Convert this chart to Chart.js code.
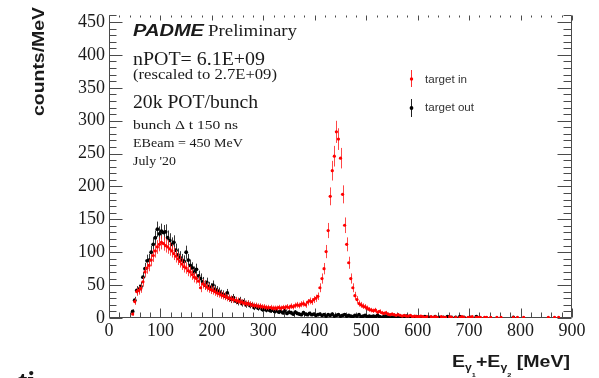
<!DOCTYPE html>
<html><head><meta charset="utf-8">
<script src="https://cdn.jsdelivr.net/npm/chart.js@4.4.1/dist/chart.umd.min.js"></script>
<style>html,body{margin:0;padding:0;background:#fff;overflow:hidden}#wrap{width:599px;height:378px;position:relative}</style>
</head><body><div id="wrap"><canvas id="c" width="599" height="378"></canvas></div>
<script>
// Histogram binning (MeV): bin i covers [binLow + i*binWidth, binLow + (i+1)*binWidth)
const binLow = 40, binWidth = 4;

// counts/MeV, "target in" (red)
const targetIn = [
 null,6,25,40,42,45,55,70,76,80,88,95,102,108,112,115,113,110,108,105,
 102,98,94,90,86,82,78,76,72,70,66,62,60,56,46,52,50,47,45,43,
 42,40,38,37,35,34,33,31,30,29,28,27,26,25,24,23,22,22,21,20,
 19,19,18,18,17,17,16,16,16,15,15,15,16,15,16,16,17,16,18,17,
 19,20,19,21,22,20,24,26,25,28,30,33,46,60,75,101,133,185,224,246,
 283,272,243,188,141,112,84,60,46,34,28,22,20,18,17,15,13,12,11,12,
 9,10,8,7,8,6,5,6,5,4,5,4,3,4,3,3,4,2,3,2,
 2,3,2,1,2,null,2,1,2,1,null,2,1,1,null,2,1,null,1,null,
 1,2,1,null,1,1,2,null,1,1,1,null,1,1,null,1,null,null,1,null,
 1,null,null,null,null,null,1,null,1,null,null,1,null,null,null,null,
 null,null,null,null,null,null,null,1,null,null,1,null,1,null,null
];
// counts/MeV, "target out" (black)
const targetOut = [
 null,10,27,42,44,48,62,75,87,88,100,112,122,135,128,132,130,131,122,118,
 112,115,103,96,92,88,86,100,88,80,76,70,74,64,60,55,50,54,48,46,
 50,44,42,40,37,36,33,38,30,28,31,26,24,27,22,25,20,22,19,20,
 16,18,15,17,13,14,12,13,11,12,10,11,9,10,8,11,7,9,8,6,
 9,7,6,5,8,6,5,7,5,6,4,5,6,4,5,3,5,4,6,3,
 4,5,3,4,5,3,4,3,2,4,3,5,2,3,4,2,3,2,3,2,
 4,2,1,2,3,1,2,1,2,3,1,2,1,1,3,1,2,null,1,2,
 1,null,1,2,null,1,1,null,2,null,1,null,1,null,2,null,1,null,1,null,
 2,null,1,null,null,1,null,null,2,null,null,null,null,null,null,null,null,null,null,null,
 null,null,null,null,null,null,1,null,null,null,null,null,null,null,null,null,
 null,null,null,null,null,null,null,null,null,null,null,null,null,null,null
];

const xTickLabels = [0,100,200,300,400,500,600,700,800,900];
const yTickLabels = [0,50,100,150,200,250,300,350,400,450];

function toPoints(arr){
  const pts = [];
  arr.forEach((v,i)=>{ if(v!==null) pts.push({x: binLow + binWidth*(i+0.5), y: v}); });
  return pts;
}

const AXIS = '#4a4a4a', TXT = '#1a1a1a';

function stretchText(ctx, str, x, y, font, width, align){
  ctx.save();
  ctx.font = font;
  const w = ctx.measureText(str).width;
  const sx = width / w;
  ctx.translate(x, y);
  ctx.scale(sx, 1);
  ctx.textAlign = 'left';
  ctx.fillText(str, align==='right' ? -w : 0, 0);
  ctx.restore();
}

const errorBars = {
  id:'errorBars',
  beforeDatasetDraw(chart, args){
    const ds = chart.data.datasets[args.index];
    const xs = chart.scales.x, ys = chart.scales.y, ctx = chart.ctx, a = chart.chartArea;
    ctx.save();
    ctx.beginPath(); ctx.rect(a.left, a.top, a.right-a.left, a.bottom-a.top); ctx.clip();
    ctx.strokeStyle = ds.barColor; ctx.lineWidth = 1;
    ds.data.forEach(p=>{
      const e = Math.sqrt(p.y);
      const px = Math.round(xs.getPixelForValue(p.x)) + 0.5;
      const py = ys.getPixelForValue(p.y);
      ctx.beginPath();
      ctx.moveTo(px, ys.getPixelForValue(p.y + e));
      ctx.lineTo(px, ys.getPixelForValue(Math.max(0, p.y - e)));
      ctx.moveTo(xs.getPixelForValue(p.x - binWidth/2), py);
      ctx.lineTo(xs.getPixelForValue(p.x + binWidth/2), py);
      ctx.stroke();
    });
    ctx.restore();
  }
};

const frame = {
  id:'frame',
  beforeDatasetsDraw(chart){
    const ctx = chart.ctx, a = chart.chartArea, xs = chart.scales.x, ys = chart.scales.y;
    ctx.save();
    ctx.strokeStyle = AXIS; ctx.lineWidth = 1;
    const L = Math.round(a.left)+0.5, R = Math.round(a.right)-0.5, B = Math.round(a.bottom)-0.5, T = Math.round(a.top)+0.5;
    ctx.beginPath();
    ctx.moveTo(L, T); ctx.lineTo(L, B); ctx.lineTo(R, B); ctx.lineTo(R, T);
    // y ticks (every 10, major every 50)
    for(let v=0; v<=ys.max; v+=10){
      const y = Math.round(ys.getPixelForValue(v))+0.5;
      const major = v%50===0;
      ctx.moveTo(L, y); ctx.lineTo(L + (major?13:7), y);
      ctx.moveTo(R, y); ctx.lineTo(R - (major?14:8), y);
    }
    // x ticks (every 20, major every 100)
    for(let v=0; v<=900; v+=20){
      const x = Math.round(xs.getPixelForValue(v))+0.5;
      const major = v%100===0;
      ctx.moveTo(x, B); ctx.lineTo(x, B - (major?9:5));
      ctx.moveTo(x, T); ctx.lineTo(x, T + (major?5:2));
    }
    ctx.stroke();
    ctx.restore();
  },
  afterDraw(chart){
    const ctx = chart.ctx;
    ctx.save();
    ctx.fillStyle = TXT;
    ctx.textBaseline = 'alphabetic';
    // annotation block
    stretchText(ctx, 'PADME', 133, 36, 'italic bold 16px "Liberation Sans"', 71);
    stretchText(ctx, 'Preliminary', 208, 36, '16px "Liberation Serif"', 89);
    stretchText(ctx, 'nPOT= 6.1E+09', 133, 65, '18px "Liberation Serif"', 132);
    stretchText(ctx, '(rescaled to 2.7E+09)', 133, 78.5, '14px "Liberation Serif"', 144);
    stretchText(ctx, '20k POT/bunch', 133, 108, '18px "Liberation Serif"', 125);
    stretchText(ctx, 'bunch \u0394 t 150 ns', 133, 128.5, '12px "Liberation Serif"', 105);
    stretchText(ctx, 'EBeam = 450 MeV', 133, 146.5, '12px "Liberation Serif"', 110);
    stretchText(ctx, "July '20", 133, 164.5, '12px "Liberation Serif"', 43);

    // legend
    ctx.fillStyle = '#333';
    stretchText(ctx, 'target in', 425, 83, '11px "Liberation Sans"', 42);
    stretchText(ctx, 'target out', 425, 111, '11px "Liberation Sans"', 49);
    ctx.lineWidth = 1;
    ctx.strokeStyle = '#ff3030'; ctx.beginPath(); ctx.moveTo(411.5,70); ctx.lineTo(411.5,87); ctx.stroke();
    ctx.fillStyle = '#ff0000'; ctx.beginPath(); ctx.arc(411.5,79,1.7,0,Math.PI*2); ctx.fill();
    ctx.strokeStyle = '#222'; ctx.beginPath(); ctx.moveTo(411.5,99); ctx.lineTo(411.5,117); ctx.stroke();
    ctx.fillStyle = '#000'; ctx.beginPath(); ctx.arc(411.5,108,1.9,0,Math.PI*2); ctx.fill();

    // y title
    ctx.fillStyle = TXT;
    ctx.save();
    ctx.translate(44, 7);
    ctx.rotate(-Math.PI/2);
    stretchText(ctx, 'counts/MeV', 0, 0, 'bold 16px "Liberation Sans"', 109, 'right');
    ctx.restore();

    // x title with subscripts
    const pieces = [
      {t:'E', s:16, dy:0}, {t:'\u03b3', s:10, dy:4}, {t:'1', s:6, dy:10},
      {t:'+E', s:16, dy:0}, {t:'\u03b3', s:10, dy:4}, {t:'2', s:6, dy:10},
      {t:' [MeV]', s:16, dy:0}
    ];
    let total = 0;
    pieces.forEach(p=>{ ctx.font = 'bold '+p.s+'px "Liberation Sans"'; p.w = ctx.measureText(p.t).width; total += p.w; });
    const targetW = 118, sx = targetW/total;
    ctx.save();
    ctx.translate(570 - targetW, 367);
    ctx.scale(sx, 1);
    let cx = 0;
    pieces.forEach(p=>{ ctx.font = 'bold '+p.s+'px "Liberation Sans"'; ctx.fillText(p.t, cx, p.dy); cx += p.w; });
    ctx.restore();

    // cropped text fragment at the bottom-left edge
    ctx.font = 'bold 28px "Liberation Serif"';
    ctx.textBaseline = 'top';
    ctx.fillText('ti', 18, 369);
    ctx.restore();
  }
};

new Chart(document.getElementById('c'), {
  type:'scatter',
  data:{ datasets:[
    { label:'target in', data: toPoints(targetIn), backgroundColor:'#ff0000', borderWidth:0,
      pointRadius:1.6, pointHoverRadius:1.6, barColor:'rgba(255,40,40,0.85)' },
    { label:'target out', data: toPoints(targetOut), backgroundColor:'#000000', borderWidth:0,
      pointRadius:1.9, pointHoverRadius:1.9, barColor:'rgba(20,20,20,0.85)' }
  ]},
  options:{
    responsive:false, animation:false, devicePixelRatio:1,
    layout:{ padding:{ left:0, top:9, right:27, bottom:0 } },
    plugins:{ legend:{display:false}, tooltip:{enabled:false} },
    scales:{
      x:{ type:'linear', min:0, max:900,
        grid:{display:false, drawTicks:false}, border:{display:false},
        ticks:{ font:{family:'Liberation Serif', size:18}, color:TXT, padding:2, maxRotation:0, autoSkip:false },
        afterBuildTicks(s){ s.ticks = xTickLabels.map(v=>({value:v})); },
        afterFit(s){ s.height = 60; } },
      y:{ type:'linear', min:0, max:461,
        grid:{display:false, drawTicks:false}, border:{display:false},
        ticks:{ font:{family:'Liberation Serif', size:18}, color:TXT, padding:4, autoSkip:false },
        afterBuildTicks(s){ s.ticks = yTickLabels.map(v=>({value:v})); },
        afterFit(s){ s.width = 109; } }
    }
  },
  plugins:[errorBars, frame]
});
</script></body></html>
